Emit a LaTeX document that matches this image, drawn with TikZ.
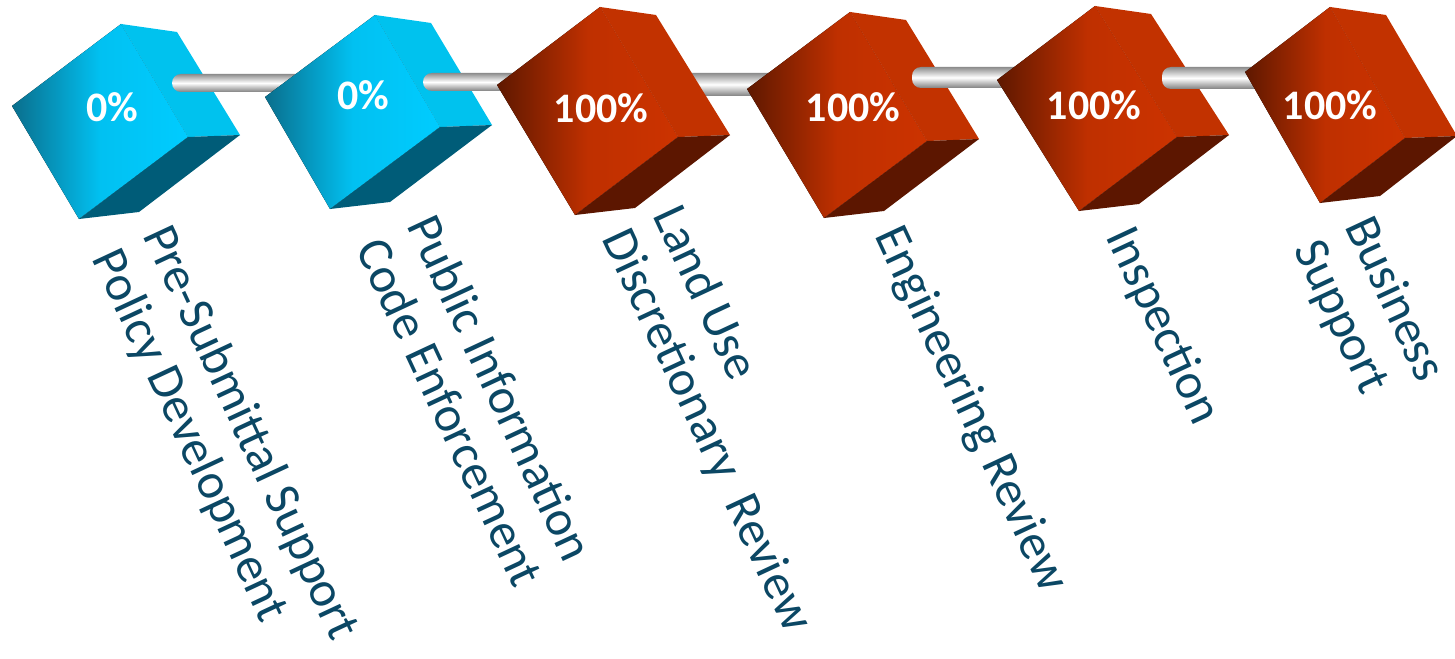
\documentclass[tikz,border=0pt]{standalone}
\usepackage{fontspec}
\setmainfont{Carlito}
\usepackage{tikz}

\definecolor{bludark}{HTML}{0A6E8C}
\definecolor{blulight}{HTML}{00CCFF}
\definecolor{bluside}{HTML}{00C2EE}
\definecolor{blubottom}{HTML}{005C78}
\definecolor{reddark}{HTML}{5E1800}
\definecolor{redlight}{HTML}{CC3300}
\definecolor{redside}{HTML}{C23200}
\definecolor{redbottom}{HTML}{5C1600}
\definecolor{labelblue}{HTML}{0B4764}

% #1 top corner, #2 ridge edge, #3 left edge, #4 colour set
\newcommand{\cubeshape}[4]{%
	\path (#1) ++(#2) coordinate (#1r) ++(#3) coordinate (#1b);
	\path (#1) ++(#3) coordinate (#1l);
	\path (#1) ++(56,8) coordinate (#1tb);
	\path (#1r) ++(52,-2) coordinate (#1rb);
	\path (#1b) ++(60,-7) coordinate (#1bb);
	\fill[left color=#4dark, right color=#4light, middle color=#4light!88!#4dark] (#1) -- (#1r) -- (#1b) -- (#1l) -- cycle;
	\fill[#4side] (#1) -- (#1tb) -- (#1rb) -- (#1r) -- cycle;
	\fill[#4bottom] (#1r) -- (#1rb) -- (#1bb) -- (#1b) -- cycle;
}

\begin{document}
\begin{tikzpicture}[x=0.5pt, y=-0.5pt,
	rod/.style={top color=black!45, bottom color=black!50, middle color=white, rounded corners=4.5pt},
	pct/.style={text=white, inner sep=0pt, font=\fontsize{21}{24}\selectfont\bfseries},
	lbl/.style={rotate=-65, anchor=north west, align=left, inner sep=0pt, text=labelblue, font=\fontsize{25}{28}\selectfont}]
	\useasboundingbox (0,0) rectangle (1455,658);

	\coordinate (c1) at (121,24);
	\coordinate (c2) at (375,15);
	\coordinate (c3) at (600,7);
	\coordinate (c4) at (850,12);
	\coordinate (c5) at (1095,6);
	\coordinate (c6) at (1330,7);

	\coordinate (r1s) at (172,74);  \coordinate (r1e) at (305,92);
	\coordinate (r2s) at (423,73);  \coordinate (r2e) at (535,91);
	\coordinate (r3s) at (650,73);  \coordinate (r3e) at (790,96);
	\coordinate (r4s) at (912,67);  \coordinate (r4e) at (1035,88);
	\coordinate (r5s) at (1162,67); \coordinate (r5e) at (1285,89);

	% rods and cubes, back to front
	\shade[rod] (r3s) rectangle (r3e);
	\cubeshape{c1}{67,113}{-109,82}{blu}
	\shade[rod] (r1s) rectangle (r1e);
	\cubeshape{c2}{65,112}{-110,82}{blu}
	\shade[rod] (r2s) rectangle (r2e);
	\cubeshape{c3}{78,130}{-103,78}{red}
	\cubeshape{c4}{77,129}{-103,77}{red}
	\shade[rod] (r4s) rectangle (r4e);
	\cubeshape{c5}{82,131}{-98,74}{red}
	\shade[rod] (r5s) rectangle (r5e);
	\cubeshape{c6}{75,131}{-85,65}{red}

	\node[pct] (p1) at (112,107) {0\%};
	\node[pct] (p2) at (363,95) {0\%};
	\node[pct] (p3) at (601,108) {100\%};
	\node[pct] (p4) at (853,107) {100\%};
	\node[pct] (p5) at (1094,105) {100\%};
	\node[pct] (p6) at (1330,105) {100\%};

	\node[lbl] (l1) at (174,220) {Pre-Submittal Support\\Policy Development};
	\node[lbl] (l2) at (438,210) {Public Information\\Code Enforcement};
	\node[lbl] (l3) at (684,200) {Land Use\\Discretionary\ \ Review};
	\node[lbl] (l4) at (906,220) {Engineering Review};
	\node[lbl] (l5) at (1137,221) {Inspection};
	\node[lbl] (l6) at (1376,211) {Business\\Support};
\end{tikzpicture}
\end{document}
